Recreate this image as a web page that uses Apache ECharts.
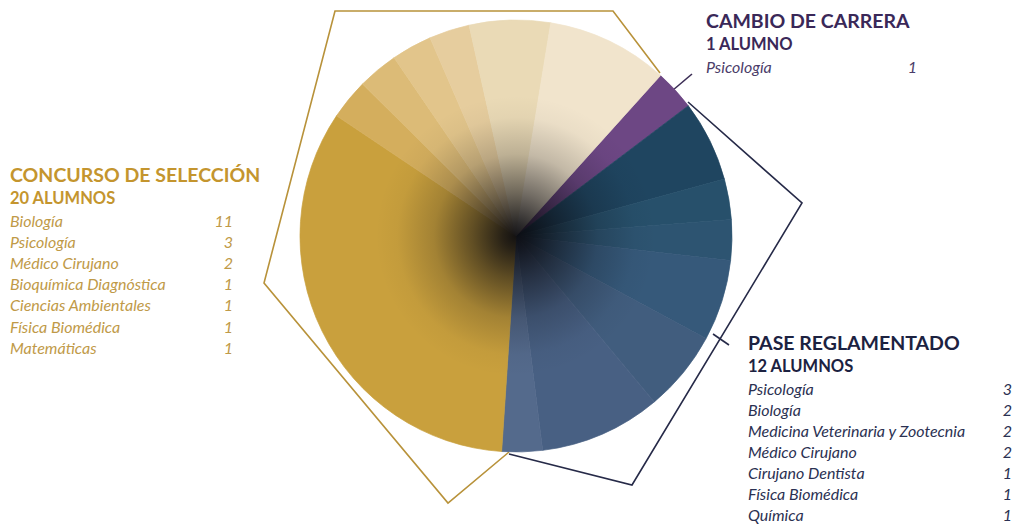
<!DOCTYPE html>
<html>
<head>
<meta charset="utf-8">
<script src="https://cdn.jsdelivr.net/npm/echarts@6/dist/echarts.min.js"></script>
<style>
html,body{margin:0;padding:0;background:#fff;}
#chart{width:1015px;height:525px;}
</style>
</head>
<body>
<div id="chart"></div>
<script>
// ---- DATA ----
const cambioTitle = 'CAMBIO DE CARRERA';
const cambioCats = ['Psicología'];
const cambioVals = [1];

const paseTitle = 'PASE REGLAMENTADO';
const paseCats = ['Psicología', 'Biología', 'Medicina Veterinaria y Zootecnia', 'Médico Cirujano', 'Cirujano Dentista', 'Física Biomédica', 'Química'];
const paseVals = [3, 2, 2, 2, 1, 1, 1];

const selTitle = 'CONCURSO DE SELECCIÓN';
const selCats = ['Biología', 'Psicología', 'Médico Cirujano', 'Bioquímica Diagnóstica', 'Ciencias Ambientales', 'Física Biomédica', 'Matemáticas'];
const selVals = [11, 3, 2, 1, 1, 1, 1];

// order of the slices around the pie (indexes into the arrays above)
const paseOrder = [1, 4, 5, 2, 3, 0, 6];
const selOrder = [0, 6, 5, 4, 3, 2, 1];

// ---- STYLES ----
const purpleCols = ['#6d4784'];
const blueSliceCols = ['#1f4560', '#27506b', '#2d5471', '#36597a', '#415d7e', '#486083', '#546a8c'];
const goldCols = ['#c9a03d', '#f1e4cc', '#eadab6', '#e6cd9e', '#e2c58b', '#dcbb77', '#d4ae5d'];

const C = {
  purpleHead: '#3a2858', purpleRow: '#4b3d6a', purpleLine: '#3b2d55',
  navyHead: '#1c2241', navyRow: '#2b3152', navyLine: '#262a48',
  goldHead: '#c4952e', goldRow: '#bf9a48', goldLine: '#b8923a'
};

const sum = a => a.reduce((s, v) => s + v, 0);

function slice(name, value, color) {
  return { name: name, value: value, itemStyle: { color: color, borderColor: color, borderWidth: 0.7 } };
}
const pieData = [];
cambioCats.forEach((c, i) => pieData.push(slice('Cambio · ' + c, cambioVals[i], purpleCols[i])));
paseOrder.forEach((i, k) => pieData.push(slice('Pase · ' + paseCats[i], paseVals[i], blueSliceCols[k])));
selOrder.forEach(i => pieData.push(slice('Selección · ' + selCats[i], selVals[i], goldCols[i])));

const FONT = 'Lato, "Open Sans", sans-serif';
const graphics = [];
function txt(x, y, s, o) {
  graphics.push({
    type: 'text', x: x, y: y, silent: true,
    style: Object.assign({ text: s, fontFamily: FONT, verticalAlign: 'middle', align: 'left' }, o)
  });
}
function block(x, y0, title, total, word, cats, vals, valX, headCol, rowCol, step) {
  txt(x, y0, title, { fontSize: 19.5, fontWeight: 'bold', fill: headCol });
  txt(x, y0 + 24, total + ' ' + word, { fontSize: 16.5, fontWeight: 'bold', fill: headCol });
  cats.forEach((c, i) => {
    const y = y0 + 46 + i * step;
    txt(x, y, c, { fontSize: 16, fontStyle: 'italic', fill: rowCol });
    txt(valX, y, String(vals[i]), { fontSize: 16, fontStyle: 'italic', fill: rowCol, align: 'right' });
  });
}
block(706, 20, cambioTitle, sum(cambioVals), 'ALUMNO', cambioCats, cambioVals, 917, C.purpleHead, C.purpleRow, 21.3);
block(10, 174, selTitle, sum(selVals), 'ALUMNOS', selCats, selVals, 233, C.goldHead, C.goldRow, 21.2);
block(748, 342, paseTitle, sum(paseVals), 'ALUMNOS', paseCats, paseVals, 1012, C.navyHead, C.navyRow, 21.0);

function poly(pts, col) {
  graphics.push({ type: 'polyline', silent: true, shape: { points: pts }, style: { stroke: col, lineWidth: 1.6, fill: null } });
}
poly([[660, 73], [613, 11], [335, 11], [264, 283], [448, 503], [509, 452]], C.goldLine);
poly([[688, 102], [802, 203], [632, 485], [509, 454]], C.navyLine);
poly([[713, 334], [729, 345]], C.navyLine);
poly([[660, 101], [692, 74]], C.purpleLine);

const chart = echarts.init(document.getElementById('chart'), null, { renderer: 'svg' });
chart.setOption({
  animation: false,
  backgroundColor: '#ffffff',
  series: [
    {
      type: 'pie', center: [516, 236], radius: [0, 216], startAngle: 48, clockwise: true,
      silent: true, label: { show: false }, labelLine: { show: false },
      avoidLabelOverlap: false, minAngle: 0,
      emphasis: { disabled: true },
      data: pieData
    },
    {
      type: 'pie', center: [516, 236], radius: [0, 216], silent: true, z: 3,
      label: { show: false }, labelLine: { show: false }, emphasis: { disabled: true },
      itemStyle: {
        borderWidth: 0,
        color: {
          type: 'radial', x: 0.5, y: 0.5, r: 0.5,
          colorStops: [
            { offset: 0, color: 'rgba(10,10,15,0.95)' },
            { offset: 0.06, color: 'rgba(10,10,15,0.85)' },
            { offset: 0.2, color: 'rgba(10,10,15,0.55)' },
            { offset: 0.38, color: 'rgba(10,10,15,0.2)' },
            { offset: 0.55, color: 'rgba(10,10,15,0.03)' },
            { offset: 0.65, color: 'rgba(10,10,15,0)' },
            { offset: 1, color: 'rgba(10,10,15,0)' }
          ]
        }
      },
      data: [{ name: 'sombra', value: 1 }]
    }
  ],
  graphic: graphics
});
</script>
</body>
</html>
